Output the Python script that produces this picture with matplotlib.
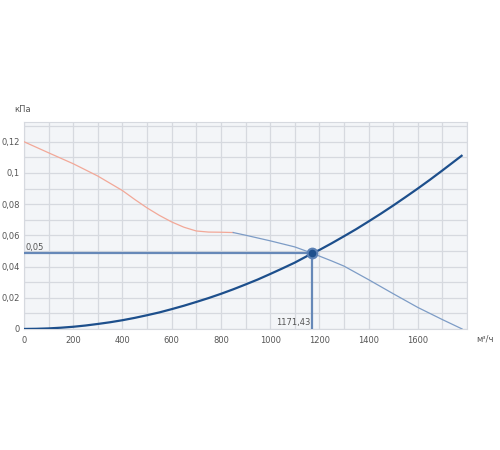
import matplotlib.pyplot as plt
import numpy as np

# fan curve (кПа vs м3/ч), red part then blue part
fan_red_x = [0, 100, 200, 300, 400, 450, 500, 550, 600, 650, 700, 750, 800, 850]
fan_red_y = [0.120, 0.1129, 0.1059, 0.0980, 0.0887, 0.0830, 0.0776, 0.0728, 0.0686,
             0.0652, 0.0628, 0.0621, 0.0620, 0.0618]
fan_blue_x = [850, 900, 1000, 1100, 1171.43, 1250, 1300, 1400, 1500, 1600, 1700, 1780]
fan_blue_y = [0.0618, 0.0601, 0.0565, 0.0526, 0.0485, 0.0436, 0.0403, 0.0316, 0.0226,
              0.0138, 0.0060, 0.0]

# system curve
sys_x = [0, 50, 100, 150, 200, 250, 300, 350, 400, 450, 500, 550, 600, 650, 700,
         750, 800, 850, 900, 950, 1000, 1050, 1100, 1171.43, 1200, 1250, 1300,
         1350, 1400, 1450, 1500, 1550, 1600, 1650, 1700, 1778]
sys_y = [0.0, 0.0001, 0.00035, 0.0008, 0.0014, 0.0022, 0.0032, 0.0043, 0.0056,
         0.0071, 0.0088, 0.0106, 0.0127, 0.0149, 0.0173, 0.0198, 0.0225, 0.0254,
         0.0285, 0.0317, 0.0352, 0.0388, 0.0425, 0.0485, 0.0506, 0.0549, 0.0594,
         0.0640, 0.0689, 0.0739, 0.0791, 0.0845, 0.0900, 0.0957, 0.1016, 0.1110]

work_q = 1171.43
work_p = 0.0485
work_p_label = "0,05"
work_q_label = "1171,43"

xticks = [0, 200, 400, 600, 800, 1000, 1200, 1400, 1600]
yticks = [0, 0.02, 0.04, 0.06, 0.08, 0.1, 0.12]
ytick_labels = ["0", "0,02", "0,04", "0,06", "0,08", "0,1", "0,12"]

fig = plt.figure(figsize=(5, 4.5), dpi=100)
ax = fig.add_axes([0.048, 0.269, 0.886, 0.459])
ax.set_facecolor("#f3f5f8")

ax.set_xlim(0, 1800)
ax.set_ylim(0, 0.1324)
ax.set_xticks(xticks)
ax.set_xticks(np.arange(0, 1801, 100), minor=True)
ax.set_yticks(yticks)
ax.set_yticklabels(ytick_labels)
ax.set_yticks(np.arange(0, 0.1324, 0.01), minor=True)
ax.grid(True, which="both", color="#d6d9df", lw=0.9)
ax.set_axisbelow(True)
ax.tick_params(which="both", length=0, labelsize=6, labelcolor="#555555")
ax.tick_params(axis="y", pad=3)
ax.tick_params(axis="x", pad=5)
for s in ax.spines.values():
    s.set_color("#d6d9df")

# helper lines to the working point
ax.plot([0, work_q], [work_p, work_p], color="#6688b8", lw=1.6, zorder=3)
ax.plot([work_q, work_q], [0, work_p], color="#6688b8", lw=1.6, zorder=3)
ax.text(8, work_p + 0.0007, work_p_label, fontsize=6, color="#555555", va="bottom")
ax.text(work_q - 8, 0.0012, work_q_label, fontsize=6, color="#555555", ha="right", va="bottom")

ax.plot(fan_red_x, fan_red_y, color="#f2a898", lw=0.9, zorder=4)
ax.plot(fan_blue_x, fan_blue_y, color="#7d9cc6", lw=0.9, zorder=4)
ax.plot(sys_x, sys_y, color="#1d4f8c", lw=1.6, zorder=5)

ax.plot([work_q], [work_p], "o", ms=7, color="#1d4f8c", mec="#5d82b5", mew=1.5, zorder=6)

fig.text(14 / 500, 1 - 110 / 450, "кПа", fontsize=6, color="#555555", ha="left", va="center")
fig.text(476 / 500, 1 - 339 / 450, "м³/ч", fontsize=6, color="#555555", ha="left", va="center")

fig.savefig("out.png", dpi=100)
